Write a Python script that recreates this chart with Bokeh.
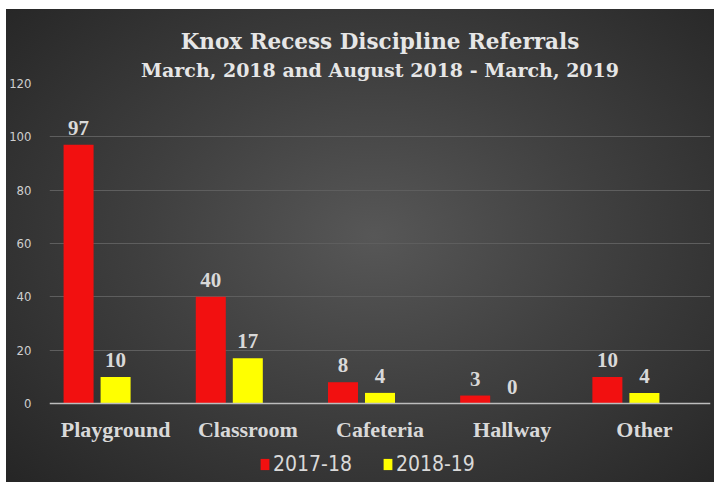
from bokeh.plotting import figure
from bokeh.models import (ColumnDataSource, FactorRange, Range1d, Title, LabelSet, Legend,
                          LegendItem, FixedTicker, Span)
from bokeh.transform import dodge
from bokeh.embed import file_html
from bokeh.resources import INLINE

categories = ["Playground", "Classroom", "Cafeteria", "Hallway", "Other"]
series_names = ["2017-18", "2018-19"]
values_2017_18 = [97, 40, 8, 3, 10]
values_2018_19 = [10, 17, 4, 0, 4]
y_ticks = [0, 20, 40, 60, 80, 100, 120]
title_line1 = "Knox Recess Discipline Referrals"
title_line2 = "March, 2018 and August 2018 - March, 2019"

src = ColumnDataSource(dict(
    cat=categories,
    a=values_2017_18,
    b=values_2018_19,
    a_txt=[str(v) for v in values_2017_18],
    b_txt=[str(v) for v in values_2018_19],
    base=[0] * len(categories),
))

SLAB = "DejaVu Serif"
NARROW = "Liberation Sans Narrow, DejaVu Sans Condensed, sans-serif"
TXT = "#d9d9d9"

# frame extends below zero to host the category labels and the legend
p = figure(width=708, height=473, x_range=FactorRange(*categories, range_padding=0),
           y_range=Range1d(-29.6, 120), output_backend="svg", toolbar_location=None,
           min_border_left=42, min_border_right=4, min_border_top=74, min_border_bottom=0)
p.margin = (9, 0, 0, 6)
p.styles = {"background": "radial-gradient(ellipse 70% 75% at 52% 48%, #575757 0%, #404040 45%, #262626 100%)"}
p.border_fill_alpha = 0
p.background_fill_alpha = 0
p.outline_line_color = None

p.add_layout(Title(text=title_line2, align="center", text_font=SLAB, text_font_size="19px",
                   text_color="#e6e6e6", text_font_style="bold", standoff=6), "above")
p.add_layout(Title(text=title_line1, align="center", text_font=SLAB, text_font_size="21.5px",
                   text_color="#e6e6e6", text_font_style="bold", standoff=0), "above")

w = 0.227
r1 = p.vbar(x=dodge("cat", -0.28, range=p.x_range), top="a", width=w, source=src,
            fill_color="#f21010", line_color=None)
r2 = p.vbar(x=dodge("cat", 0.0, range=p.x_range), top="b", width=w, source=src,
            fill_color="#ffff00", line_color=None)

for col, off in (("a_txt", -0.28), ("b_txt", 0.0)):
    ycol = "a" if col == "a_txt" else "b"
    p.add_layout(LabelSet(x=dodge("cat", off, range=p.x_range), y=ycol, text=col, source=src,
                          text_align="center", text_baseline="bottom", y_offset=10,
                          text_font=SLAB, text_font_style="bold", text_font_size="21px",
                          text_color=TXT))

# baseline (category axis line)
p.add_layout(Span(location=0, dimension="width", line_color="#bdbdbd", line_width=1.5))

# category labels under the baseline
p.add_layout(LabelSet(x="cat", y="base", text="cat", source=src, text_align="center",
                      text_baseline="middle", y_offset=-26, text_font=SLAB,
                      text_font_style="bold", text_font_size="22px", text_color=TXT))

p.xaxis.visible = False
p.yaxis.ticker = FixedTicker(ticks=y_ticks)
p.yaxis.axis_line_color = None
p.yaxis.major_tick_line_color = None
p.yaxis.minor_tick_line_color = None
p.yaxis.major_label_text_font = NARROW
p.yaxis.major_label_text_font_size = "13px"
p.yaxis.major_label_text_color = "#cfcfcf"
p.yaxis.major_label_standoff = 12

p.xgrid.grid_line_color = None
p.ygrid.ticker = FixedTicker(ticks=y_ticks[1:])
p.ygrid.grid_line_color = "#5e5e5e"
p.ygrid.grid_line_width = 1

legend = Legend(items=[LegendItem(label=series_names[0], renderers=[r1]),
                       LegendItem(label=series_names[1], renderers=[r2])],
                orientation="horizontal", location=(210, 6),
                label_text_font=NARROW, label_text_font_size="21px", label_text_color=TXT,
                glyph_width=11, glyph_height=14, spacing=30, label_standoff=3,
                background_fill_alpha=0, border_line_color=None, margin=0, padding=4)
p.add_layout(legend)

open("out.html", "w").write(file_html(p, INLINE))
